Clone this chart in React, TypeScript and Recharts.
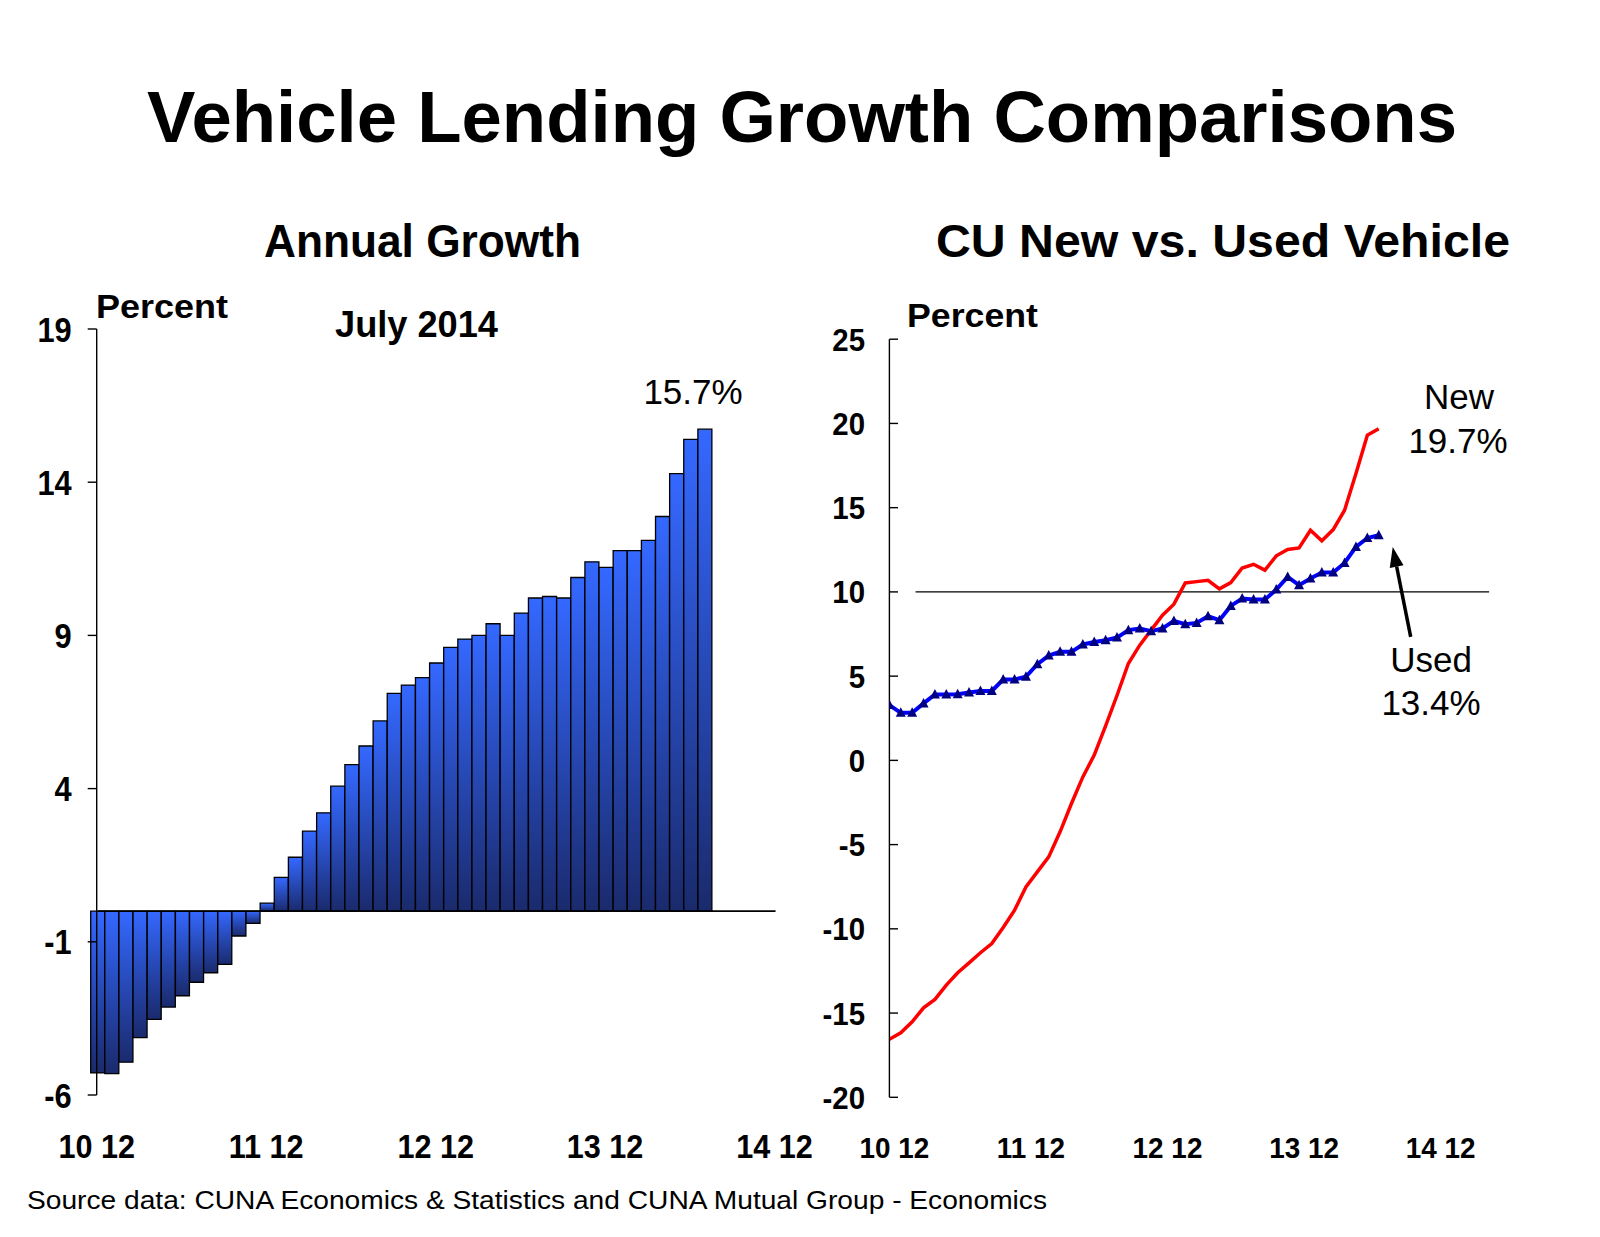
import React from 'react'
import {
  Bar,
  BarChart,
  Line,
  LineChart,
  ReferenceLine,
  XAxis,
  YAxis,
} from 'recharts'

const FONT = '"Liberation Sans", Arial, Helvetica, sans-serif'

// month labels, Dec 2010 .. Dec 2014 (yy mm)
const months = [
  '10 12',
  '11 01', '11 02', '11 03', '11 04', '11 05', '11 06', '11 07', '11 08', '11 09', '11 10', '11 11', '11 12',
  '12 01', '12 02', '12 03', '12 04', '12 05', '12 06', '12 07', '12 08', '12 09', '12 10', '12 11', '12 12',
  '13 01', '13 02', '13 03', '13 04', '13 05', '13 06', '13 07', '13 08', '13 09', '13 10', '13 11', '13 12',
  '14 01', '14 02', '14 03', '14 04', '14 05', '14 06', '14 07', '14 08', '14 09', '14 10', '14 11', '14 12',
]

// annual growth of vehicle lending, Dec 2010 .. Jul 2014
const annualGrowth = [
  -5.28, -5.3, -4.93, -4.13, -3.53, -3.13, -2.76, -2.32, -2.01, -1.74, -0.81, -0.4,
  0.26, 1.1, 1.76, 2.61, 3.21, 4.08, 4.78, 5.39, 6.21, 7.11, 7.38, 7.62,
  8.1, 8.61, 8.88, 9.0, 9.38, 9.0, 9.73, 10.22, 10.27, 10.22, 10.89, 11.4,
  11.22, 11.77, 11.77, 12.1, 12.88, 14.28, 15.4, 15.73,
]

// CU new vehicle loans growth
const newVehicle = [
  -16.55, -16.17, -15.52, -14.69, -14.19, -13.34, -12.61, -12.02, -11.42, -10.87, -9.92, -8.89,
  -7.51, -6.62, -5.73, -4.24, -2.56, -0.98, 0.31, 2.05, 3.85, 5.75, 6.84, 7.73,
  8.62, 9.27, 10.53, 10.61, 10.69, 10.18, 10.55, 11.42, 11.64, 11.29, 12.14, 12.52,
  12.61, 13.66, 13.03, 13.7, 14.85, 17.03, 19.3, 19.68,
]

// CU used vehicle loans growth
const usedVehicle = [
  3.28, 2.82, 2.82, 3.38, 3.91, 3.91, 3.93, 4.03, 4.12, 4.12, 4.8, 4.8,
  4.96, 5.71, 6.22, 6.44, 6.44, 6.88, 7.03, 7.13, 7.29, 7.73, 7.83, 7.67,
  7.83, 8.28, 8.08, 8.16, 8.56, 8.32, 9.17, 9.61, 9.55, 9.55, 10.14, 10.89,
  10.4, 10.8, 11.15, 11.15, 11.72, 12.67, 13.2, 13.36,
]

const leftTicks = [-6, -1, 4, 9, 14, 19]
const rightTicks = [-20, -15, -10, -5, 0, 5, 10, 15, 20, 25]
const yearTicks = [0, 12, 24, 36, 48]

const barRows = months.map((m, i) => ({
  month: m,
  growth: i < annualGrowth.length ? annualGrowth[i] : null,
}))

const lineRows = newVehicle.map((v, i) => ({
  idx: i,
  newV: v,
  usedV: usedVehicle[i],
}))

// bold, slightly narrow tick text like the original slide
const NarrowTick = (props: any) => {
  const { x, y, payload, size, sx, anchor, dy, dx = 0, format, mark } = props
  const label = format ? format(payload.value) : payload.value
  return (
    <g>
      {mark ? (
        <line x1={x + mark[0]} x2={x + mark[1]} y1={y} y2={y} stroke="#000" strokeWidth={1.4} />
      ) : null}
      <text
        transform={`translate(${x + dx},${y}) scale(${sx},1)`}
        x={0}
        y={0}
        dy={dy}
        textAnchor={anchor}
        fontSize={size}
        fontWeight={700}
        fontFamily={FONT}
        fill="#000"
      >
        {label}
      </text>
    </g>
  )
}

const Triangle = (props: any) => {
  const { cx, cy } = props
  if (cx == null || cy == null) return null
  return (
    <polygon
      points={`${cx},${cy - 5.5} ${cx - 5},${cy + 4} ${cx + 5},${cy + 4}`}
      fill="#000080"
    />
  )
}

const Arrow = (props: any) => {
  const { x1, y1, x2, y2 } = props
  const ang = Math.atan2(y2 - y1, x2 - x1)
  const len = 20
  const half = 7
  const bx = x2 - len * Math.cos(ang)
  const by = y2 - len * Math.sin(ang)
  const px = -Math.sin(ang) * half
  const py = Math.cos(ang) * half
  return (
    <g>
      <line x1={x1} y1={y1} x2={bx} y2={by} stroke="#000" strokeWidth={3.5} />
      <polygon points={`${x2},${y2} ${bx + px},${by + py} ${bx - px},${by - py}`} fill="#000" />
    </g>
  )
}

function Texts() {
  const t = { fontFamily: FONT, fill: '#000' }
  return (
    <svg
      width={1600}
      height={1237}
      style={{ position: 'absolute', left: 0, top: 0, pointerEvents: 'none' }}
    >
      <text {...t} x={147} y={142} fontSize={72} fontWeight={700} textLength={1310} lengthAdjust="spacingAndGlyphs">
        Vehicle Lending Growth Comparisons
      </text>
      <text {...t} x={264} y={257} fontSize={47} fontWeight={700} textLength={317} lengthAdjust="spacingAndGlyphs">
        Annual Growth
      </text>
      <text {...t} x={936} y={257} fontSize={47} fontWeight={700} textLength={574} lengthAdjust="spacingAndGlyphs">
        CU New vs. Used Vehicle
      </text>
      <text {...t} x={96} y={318} fontSize={34} fontWeight={700} textLength={132} lengthAdjust="spacingAndGlyphs">
        Percent
      </text>
      <text {...t} x={335} y={337} fontSize={36} fontWeight={700} textLength={163} lengthAdjust="spacingAndGlyphs">
        July 2014
      </text>
      <text {...t} x={693} y={404} fontSize={35} textAnchor="middle">
        15.7%
      </text>
      <text {...t} x={907} y={327} fontSize={34} fontWeight={700} textLength={131} lengthAdjust="spacingAndGlyphs">
        Percent
      </text>
      <text {...t} x={1459} y={409} fontSize={35} textAnchor="middle">
        New
      </text>
      <text {...t} x={1458} y={453} fontSize={35} textAnchor="middle">
        19.7%
      </text>
      <text {...t} x={1431} y={672} fontSize={35} textAnchor="middle">
        Used
      </text>
      <text {...t} x={1431} y={715} fontSize={35} textAnchor="middle">
        13.4%
      </text>
      <text {...t} x={27} y={1209} fontSize={26} textLength={1020} lengthAdjust="spacingAndGlyphs">
        Source data: CUNA Economics &amp; Statistics and CUNA Mutual Group - Economics
      </text>
    </svg>
  )
}

export default function App() {
  return (
    <div
      style={{
        position: 'absolute',
        left: 0,
        top: 0,
        width: 1600,
        height: 1237,
        background: '#fff',
        overflow: 'hidden',
      }}
    >
      <div style={{ position: 'absolute', left: 0, top: 0 }}>
        <BarChart
          width={830}
          height={1237}
          data={barRows}
          margin={{ top: 329, right: 47.4, bottom: 82, left: 0 }}
          barCategoryGap={0}
          barGap={0}
        >
          <defs>
            <linearGradient id="barGrad" x1="0" y1="0" x2="0" y2="1">
              <stop offset="0%" stopColor="#3468FF" />
              <stop offset="100%" stopColor="#1A2A6C" />
            </linearGradient>
          </defs>
          <XAxis
            dataKey="month"
            interval={11}
            padding={{ left: -6, right: 0 }}
            axisLine={false}
            tickLine={false}
            tickSize={0}
            tickMargin={39}
            height={60}
            tick={<NarrowTick size={34} sx={0.9} anchor="middle" dy="0.71em" dx={-1} />}
          />
          <YAxis
            type="number"
            domain={[-6, 19]}
            ticks={leftTicks}
            interval={0}
            width={96.7}
            allowDataOverflow
            axisLine={{ stroke: '#000', strokeWidth: 1.4 }}
            tickLine={{ stroke: '#000', strokeWidth: 1.4 }}
            tickSize={9}
            tickMargin={16}
            tick={<NarrowTick size={35} sx={0.88} anchor="end" dy="0.36em" />}
          />
          <Bar
            dataKey="growth"
            fill="url(#barGrad)"
            stroke="#000"
            strokeWidth={1.3}
            isAnimationActive={false}
          />
          <ReferenceLine
            segment={[{ x: '10 12', y: 0 }, { x: '14 12', y: 0 }]}
            stroke="#000"
            strokeWidth={1.6}
          />
        </BarChart>
      </div>
      <div style={{ position: 'absolute', left: 800, top: 0 }}>
        <LineChart
          width={800}
          height={1237}
          data={lineRows}
          margin={{ top: 339.2, right: 110.9, bottom: 79.7, left: 0 }}
        >
          <XAxis
            type="number"
            dataKey="idx"
            domain={[0, 52.7]}
            ticks={yearTicks}
            interval={0}
            allowDataOverflow
            axisLine={false}
            tickLine={false}
            tickSize={0}
            tickMargin={39}
            height={60}
            tick={
              <NarrowTick
                size={30}
                sx={0.93}
                anchor="middle"
                dy="0.71em"
                dx={5}
                format={(v: number) => months[v]}
              />
            }
          />
          <YAxis
            type="number"
            domain={[-20, 25]}
            ticks={rightTicks}
            interval={0}
            width={89.4}
            allowDataOverflow
            axisLine={{ stroke: '#000', strokeWidth: 1.4 }}
            tickLine={false}
            tickSize={0}
            tickMargin={24.4}
            tick={<NarrowTick size={32} sx={0.92} anchor="end" dy="0.36em" mark={[24.4, 33]} />}
          />
          <ReferenceLine
            segment={[{ x: 2.3, y: 10 }, { x: 52.7, y: 10 }]}
            stroke="#000"
            strokeWidth={1.4}
          />
          <Line
            type="linear"
            dataKey="usedV"
            stroke="#0000FF"
            strokeWidth={4}
            dot={<Triangle />}
            isAnimationActive={false}
          />
          <Line
            type="linear"
            dataKey="newV"
            stroke="#FF0000"
            strokeWidth={3.5}
            dot={false}
            isAnimationActive={false}
          />
          <ReferenceLine
            segment={[{ x: 45.81, y: 7.33 }, { x: 44.23, y: 12.67 }]}
            shape={<Arrow />}
          />
        </LineChart>
      </div>
      <Texts />
    </div>
  )
}
